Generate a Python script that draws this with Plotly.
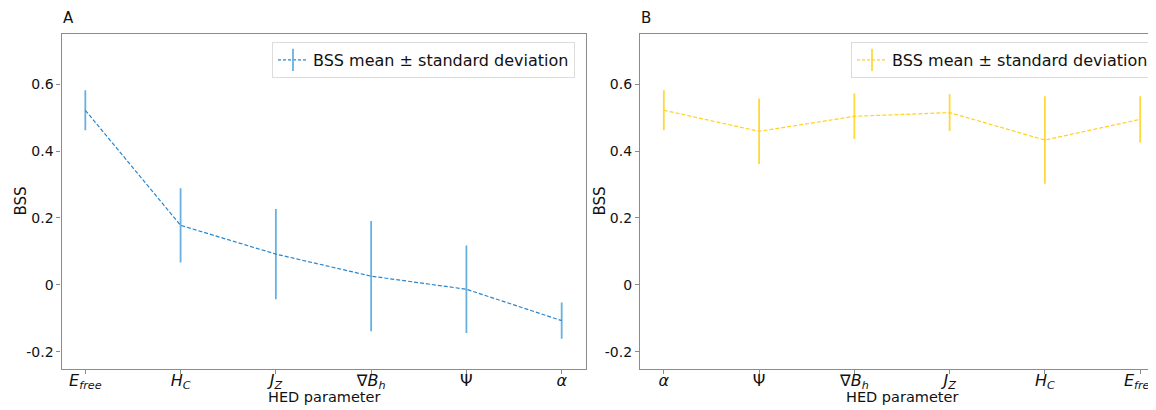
import plotly.graph_objects as go

# ---- data ----
cats_a = ["<i>E</i><sub><i>free</i></sub>", "<i>H</i><sub><i>C</i></sub>", "<i>J</i><sub><i>Z</i></sub>",
          "∇<i>B</i><sub><i>h</i></sub>", "Ψ", "<i>α</i>"]
mean_a = [0.522, 0.178, 0.092, 0.026, -0.013, -0.107]
std_a = [0.060, 0.111, 0.135, 0.165, 0.131, 0.054]

cats_b = ["<i>α</i>", "Ψ", "∇<i>B</i><sub><i>h</i></sub>", "<i>J</i><sub><i>Z</i></sub>",
          "<i>H</i><sub><i>C</i></sub>", "<i>E</i><sub><i>free</i></sub>"]
mean_b = [0.522, 0.459, 0.504, 0.515, 0.433, 0.495]
std_b = [0.060, 0.098, 0.068, 0.055, 0.131, 0.069]

y_ticks = [-0.2, 0, 0.2, 0.4, 0.6]
y_tick_text = ["-0.2", "0", "0.2", "0.4", "0.6"]
legend_label = "BSS mean ± standard deviation"

# page body has an 8px margin: lay the figure out so it fits the 1156x410 window
OFF = 8
W, H = 1156 - OFF, 410 - OFF
FONT = "DejaVu Sans"
AX = "#8c8c8c"


def px(xr):  # reference x pixel -> paper fraction
    return (xr - OFF) / W


def py(yr):  # reference y pixel -> paper fraction
    return 1 - (yr - OFF) / H


blue_line, blue_err = "#2a86cc", "#67b1e0"
gold_line, gold_err = "#ffd21f", "#ffd83a"

fig = go.Figure()


def add_panel(cats, mean, std, xa, ya, lc, ec, leg):
    fig.add_trace(go.Scatter(
        x=cats, y=mean, mode="lines", xaxis=xa, yaxis=ya,
        line=dict(color=lc, width=1.2, dash="4px,2px"),
        error_y=dict(type="data", array=std, visible=True, color=ec, thickness=1.8, width=0),
        showlegend=False, hoverinfo="skip"))
    fig.add_trace(go.Scatter(
        x=[None], y=[None], mode="lines+markers", xaxis=xa, yaxis=ya,
        name=legend_label, legend=leg,
        line=dict(color=lc, width=1.2, dash="3px,2px"),
        marker=dict(symbol="line-ns-open", size=18, line=dict(color=ec, width=1.8), color=ec)))


add_panel(cats_a, mean_a, std_a, "x", "y", blue_line, blue_err, "legend")
add_panel(cats_b, mean_b, std_b, "x2", "y2", gold_line, gold_err, "legend2")

ydom = [py(368.5), py(34)]
common_x = dict(showline=True, linecolor=AX, linewidth=1.2, mirror=True, ticks="outside",
                ticklen=4, tickcolor=AX, showgrid=False, zeroline=False, automargin=False,
                ticklabelstandoff=-7,
                tickfont=dict(family=FONT, size=16, color="#111"), type="category")
common_y = dict(showline=True, linecolor=AX, linewidth=1.2, ticks="outside", ticklen=4,
                tickcolor=AX, showgrid=False, zeroline=False, range=[-0.25, 0.75],
                automargin=False, tickvals=y_ticks, ticktext=y_tick_text,
                tickfont=dict(family=FONT, size=14, color="#111"))

# right panel extends past the window edge in the reference (clipped)
x2_end = 5.25 - (1164 - 1156) / 95.3

fig.update_layout(
    width=W, height=H, margin=dict(l=0, r=0, t=0, b=0, autoexpand=False),
    paper_bgcolor="white", plot_bgcolor="white",
    font=dict(family=FONT, color="#111"),
    xaxis=dict(domain=[px(61.5), px(585.5)], range=[-0.25, 5.25], anchor="y", **common_x),
    yaxis=dict(domain=ydom, anchor="x", mirror=True, **common_y),
    xaxis2=dict(domain=[px(640), 1.0], range=[-0.25, x2_end], anchor="y2", **common_x),
    yaxis2=dict(domain=ydom, anchor="x2", mirror=False, **common_y),
    legend=dict(x=px(575), y=py(42), xanchor="right", yanchor="top",
                bgcolor="white", bordercolor="#dcdcdc", borderwidth=1,
                font=dict(family=FONT, size=16, color="#111")),
    legend2=dict(x=px(1154), y=py(42), xanchor="right", yanchor="top",
                 bgcolor="white", bordercolor="#dcdcdc", borderwidth=1,
                 font=dict(family=FONT, size=16, color="#111")),
)

anns = []
for xp, lab in [(61.5, "A"), (640, "B")]:
    anns.append(dict(x=px(xp), y=py(8), xref="paper", yref="paper", text=lab,
                     showarrow=False, xanchor="left", yanchor="top", borderpad=0,
                     font=dict(family=FONT, size=15, color="#111")))
for xc in [(61.5 + 585.5) / 2, (640 + 1164) / 2]:
    anns.append(dict(x=px(xc), y=py(397), xref="paper", yref="paper", text="HED parameter",
                     showarrow=False, xanchor="center", yanchor="middle",
                     font=dict(family=FONT, size=14.5, color="#111")))
for xb in [20.5, 599.5]:
    anns.append(dict(x=px(xb), y=py(201), xref="paper", yref="paper", text="BSS",
                     showarrow=False, textangle=-90, xanchor="center", yanchor="middle",
                     font=dict(family=FONT, size=15, color="#111")))
fig.update_layout(annotations=anns)

fig.write_html("out.html")
